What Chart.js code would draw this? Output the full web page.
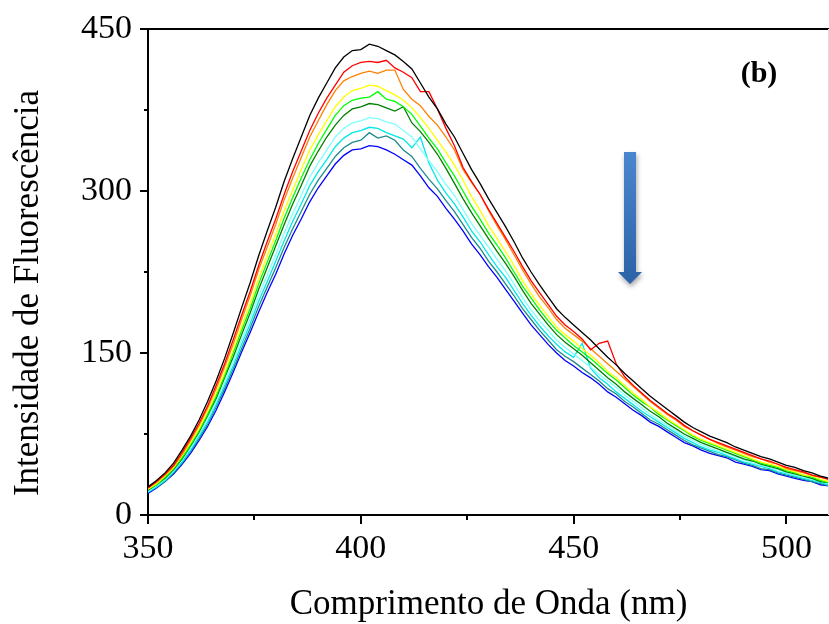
<!DOCTYPE html>
<html>
<head>
<meta charset="utf-8">
<script src="https://cdn.jsdelivr.net/npm/chart.js@4"></script>
<style>
  html, body { margin: 0; padding: 0; background: #fff; }
  canvas { display: block; }
</style>
</head>
<body>
<canvas id="fluorChart" width="829" height="624"></canvas>
<script>
// comprimentos de onda (nm)
const wavelengths = [350, 352, 354, 356, 358, 360, 362, 364, 366, 368, 370, 372, 374, 376, 378, 380,
  382, 384, 386, 388, 390, 392, 394, 396, 398, 400, 402, 404, 406, 408, 410, 412, 414, 416, 418, 420,
  422, 424, 426, 428, 430, 432, 434, 436, 438, 440, 442, 444, 446, 448, 450, 452, 454, 456, 458, 460,
  462, 464, 466, 468, 470, 472, 474, 476, 478, 480, 482, 484, 486, 488, 490, 492, 494, 496, 498, 500,
  502, 504, 506, 508, 510];

const xTicks = [350, 400, 450, 500];
const yTicks = [0, 150, 300, 450];

// espectros, do mais intenso para o menos intenso
const black = [26, 32, 39, 48, 60, 73, 88, 105, 124, 145, 168, 192, 215, 240, 263, 285,
  309, 330, 350, 370, 386, 400, 414, 424, 430, 431, 436, 434, 430, 426, 420, 413, 400, 387, 376, 362,
  350, 335, 320, 307, 293, 280, 267, 253, 238, 225, 213, 202, 191, 183, 176, 169, 162, 154, 146, 139,
  131, 124, 117, 110, 104, 98, 92, 86, 81, 77, 73, 70, 67, 63, 60, 57, 54, 52, 49, 46,
  44, 41, 39, 36, 34];
const red = [25, 31, 38, 46, 58, 71, 85, 101, 120, 140, 162, 185, 207, 231, 253, 274,
  297, 318, 337, 356, 372, 386, 398, 410, 416, 419, 420, 419, 421, 414, 410, 405, 392, 392, 376, 358,
  342, 322, 309, 297, 283, 270, 257, 244, 230, 217, 206, 195, 184, 176, 170, 163, 153, 159, 161, 140,
  128, 120, 113, 106, 100, 94, 89, 83, 78, 74, 70, 67, 64, 61, 58, 55, 52, 50, 47, 44,
  42, 40, 37, 35, 33];
const orange = [25, 30, 37, 45, 56, 69, 83, 99, 117, 137, 158, 181, 203, 227, 248, 269,
  292, 312, 331, 350, 365, 380, 393, 402, 406, 409, 411, 409, 412, 412, 394, 385, 379, 369, 361, 350,
  338, 320, 308, 297, 282, 268, 255, 241, 227, 214, 202, 192, 181, 173, 167, 161, 154, 147, 140, 133,
  126, 119, 112, 105, 99, 93, 88, 82, 78, 74, 70, 66, 63, 60, 57, 54, 52, 49, 47, 43,
  41, 39, 37, 35, 33];
const yellow = [24, 29, 36, 44, 55, 67, 80, 96, 113, 132, 153, 175, 196, 219, 240, 260,
  282, 301, 320, 338, 352, 365, 378, 387, 393, 395, 398, 397, 393, 389, 384, 377, 368, 358, 347, 336,
  324, 310, 295, 282, 268, 256, 244, 231, 217, 205, 194, 184, 174, 167, 161, 154, 148, 141, 133, 127,
  120, 113, 107, 100, 95, 89, 84, 79, 74, 70, 67, 64, 61, 58, 55, 52, 49, 47, 45, 42,
  40, 37, 36, 33, 31];
const green = [24, 28, 35, 43, 53, 65, 78, 93, 110, 129, 150, 171, 191, 214, 234, 254,
  275, 294, 312, 329, 344, 357, 370, 379, 384, 386, 387, 392, 385, 383, 378, 371, 360, 349, 339, 326,
  314, 300, 286, 274, 261, 250, 238, 225, 212, 201, 190, 180, 171, 164, 157, 151, 145, 138, 131, 125,
  118, 111, 105, 100, 93, 88, 83, 78, 73, 69, 66, 63, 60, 57, 54, 51, 48, 46, 44, 41,
  39, 37, 35, 32, 30];
const darkGreen = [23, 28, 34, 42, 52, 64, 77, 92, 108, 127, 146, 167, 187, 209, 229, 249,
  269, 288, 305, 323, 337, 350, 361, 370, 376, 378, 381, 380, 377, 374, 378, 363, 355, 345, 334, 321,
  307, 293, 280, 268, 256, 244, 233, 221, 208, 196, 186, 176, 167, 160, 154, 148, 141, 134, 127, 121,
  114, 108, 102, 96, 91, 85, 80, 75, 71, 67, 64, 61, 58, 55, 52, 50, 47, 45, 43, 40,
  38, 36, 34, 31, 30];
const lightCyan = [22, 27, 33, 41, 51, 62, 75, 89, 105, 123, 142, 162, 182, 203, 222, 241,
  261, 279, 296, 313, 326, 338, 350, 358, 363, 365, 368, 367, 364, 362, 356, 350, 339, 328, 318, 306,
  296, 283, 270, 259, 248, 237, 226, 214, 201, 190, 180, 171, 162, 155, 149, 143, 137, 130, 124, 118,
  111, 105, 99, 93, 88, 83, 78, 73, 69, 65, 62, 59, 57, 54, 51, 48, 46, 44, 42, 39,
  37, 35, 33, 31, 29];
const cyan = [21, 26, 32, 40, 49, 60, 73, 86, 102, 120, 138, 158, 177, 198, 216, 235,
  254, 272, 288, 305, 318, 329, 341, 349, 354, 356, 359, 358, 354, 351, 348, 340, 350, 326, 310, 298,
  288, 276, 263, 253, 241, 230, 220, 208, 196, 185, 175, 166, 158, 151, 146, 159, 136, 127, 121, 114,
  108, 102, 96, 91, 86, 81, 76, 71, 67, 63, 60, 58, 55, 52, 49, 47, 45, 43, 40, 38,
  36, 34, 32, 30, 28];
const teal = [21, 26, 31, 39, 48, 59, 71, 84, 100, 117, 135, 154, 173, 193, 211, 229,
  248, 265, 281, 297, 310, 321, 332, 340, 345, 347, 354, 349, 351, 347, 338, 332, 321, 311, 302, 291,
  281, 269, 257, 247, 235, 225, 214, 203, 191, 181, 171, 162, 153, 147, 142, 136, 130, 124, 117, 112,
  105, 100, 94, 88, 84, 79, 74, 69, 65, 62, 59, 56, 54, 51, 48, 46, 43, 42, 39, 37,
  35, 33, 31, 29, 27];
const blue = [20, 25, 31, 38, 47, 57, 69, 82, 97, 114, 132, 151, 169, 188, 206, 223,
  242, 259, 274, 290, 303, 314, 325, 333, 338, 339, 342, 341, 338, 334, 329, 324, 314, 303, 295, 284,
  274, 263, 251, 241, 230, 220, 209, 198, 187, 176, 167, 158, 150, 143, 138, 132, 127, 121, 114, 109,
  103, 97, 92, 86, 82, 77, 72, 67, 64, 60, 57, 55, 53, 49, 47, 45, 42, 41, 38, 36,
  34, 32, 31, 28, 27];

const series = [black, red, orange, yellow, green, darkGreen, lightCyan, cyan, teal, blue];
const colors = ['#000000', '#ff0000', '#ff8000', '#ffff00', '#00ff00', '#008000', '#80ffff', '#00e8e8', '#1f8a8a', '#0000ff'];

const yTitle = 'Intensidade de Fluorescência';
const fontFamily = '"Liberation Serif", "Times New Roman", serif';

// ticks menores, borda de cima, titulo do eixo y, seta e o "(b)"
const extras = {
  id: 'extras',
  afterDraw(chart) {
    const c = chart.ctx;
    const area = chart.chartArea;
    const xs = chart.scales.x;
    const ys = chart.scales.y;
    c.save();
    c.strokeStyle = '#000';
    c.lineWidth = 2;
    c.beginPath();
    c.moveTo(area.left - 1, area.top);
    c.lineTo(area.right, area.top);
    [375, 425, 475].forEach(v => {
      const px = Math.round(xs.getPixelForValue(v));
      c.moveTo(px, area.bottom);
      c.lineTo(px, area.bottom + 5);
    });
    [75, 225, 375].forEach(v => {
      const py = Math.round(ys.getPixelForValue(v));
      c.moveTo(area.left, py);
      c.lineTo(area.left - 4, py);
    });
    c.stroke();

    c.strokeStyle = '#dddddd';
    c.lineWidth = 1;
    c.beginPath();
    c.moveTo(area.right - 0.5, area.top);
    c.lineTo(area.right - 0.5, area.bottom);
    c.stroke();

    // seta azul
    const ax = 630, top = 152, base = 272, tip = 284;
    const grad = c.createLinearGradient(0, top, 0, tip);
    grad.addColorStop(0, '#4a86cf');
    grad.addColorStop(1, '#2c62a6');
    c.shadowColor = 'rgba(0,0,0,0.35)';
    c.shadowBlur = 5;
    c.shadowOffsetX = 1;
    c.shadowOffsetY = 3;
    c.fillStyle = grad;
    c.beginPath();
    c.moveTo(ax - 6, top);
    c.lineTo(ax + 6, top);
    c.lineTo(ax + 6, base);
    c.lineTo(ax + 12, base);
    c.lineTo(ax, tip);
    c.lineTo(ax - 12, base);
    c.lineTo(ax - 6, base);
    c.closePath();
    c.fill();
    c.restore();

    c.save();
    c.fillStyle = '#000';
    c.font = 'bold 30px ' + fontFamily;
    c.textAlign = 'center';
    c.textBaseline = 'middle';
    c.fillText('(b)', 759, 74);

    c.font = '35px ' + fontFamily;
    c.translate(29, 293);
    c.rotate(-Math.PI / 2);
    c.fillText(yTitle, 0, 0);
    c.restore();
  }
};

const ctx = document.getElementById('fluorChart').getContext('2d');

new Chart(ctx, {
  type: 'line',
  data: {
    labels: wavelengths,
    datasets: series.map((s, i) => ({
      data: s.map((v, j) => ({ x: wavelengths[j], y: v })),
      borderColor: colors[i],
      borderWidth: 1.3,
      pointRadius: 0,
      tension: 0,
      fill: false
    }))
  },
  options: {
    responsive: false,
    animation: false,
    layout: { padding: { top: 29, right: 0, bottom: 0, left: 0 } },
    plugins: {
      legend: { display: false },
      tooltip: { enabled: false }
    },
    scales: {
      x: {
        type: 'linear',
        min: 350,
        max: 510,
        afterFit: s => { s.height = 109; },
        afterBuildTicks: s => { s.ticks = xTicks.map(v => ({ value: v })); },
        ticks: {
          includeBounds: false,
          color: '#000',
          padding: 5,
          maxRotation: 0,
          font: { family: fontFamily, size: 34 }
        },
        grid: { drawOnChartArea: false, drawTicks: true, tickLength: 9, color: '#000', lineWidth: 2 },
        border: { color: '#000', width: 2 },
        title: {
          display: true,
          text: 'Comprimento de Onda (nm)',
          color: '#000',
          padding: { top: 0, bottom: 0 },
          font: { family: fontFamily, size: 35, lineHeight: 1.1 }
        }
      },
      y: {
        min: 0,
        max: 450,
        afterFit: s => { s.width = 148; },
        afterBuildTicks: s => { s.ticks = yTicks.map(v => ({ value: v })); },
        ticks: {
          color: '#000',
          padding: 8,
          font: { family: fontFamily, size: 34 }
        },
        grid: { drawOnChartArea: false, drawTicks: true, tickLength: 8, color: '#000', lineWidth: 2 },
        border: { color: '#000', width: 2 },
        title: { display: false }
      }
    }
  },
  plugins: [extras]
});
</script>
</body>
</html>
